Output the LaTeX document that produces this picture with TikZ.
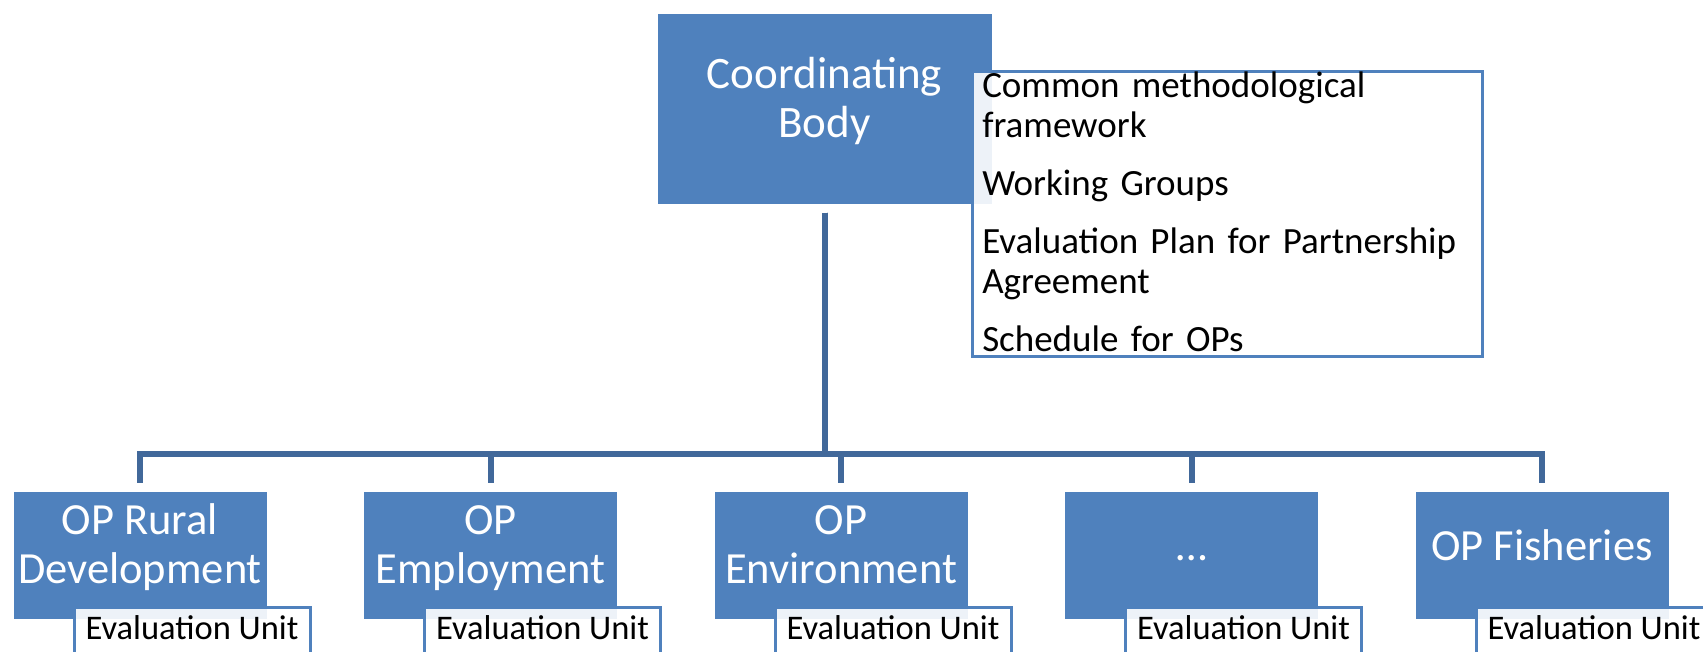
\documentclass[tikz,border=0pt]{standalone}
\usepackage{fontspec}
\setmainfont{Carlito}
\usetikzlibrary{positioning}
\definecolor{boxblue}{HTML}{4F81BD}
\definecolor{lineblue}{HTML}{41689A}
\tikzset{
  body/.style = {rectangle, fill=boxblue, draw=white, line width=1pt, text=white, align=center, inner sep=0pt, text depth=21pt, text height=31pt},
  twolines/.style = {text height=78pt},
  topbox/.style = {body, twolines, minimum width=335pt, minimum height=191pt, font=\fontsize{45}{49}\selectfont},
  opbox/.style = {body, minimum width=254pt, minimum height=128pt, font=\fontsize{44.5}{49}\selectfont},
  notebox/.style = {rectangle, anchor=north west, draw=boxblue, line width=3.5pt, fill=white, fill opacity=0.9, text opacity=1, align=left, text width=490pt, inner xsep=10pt, inner ysep=0pt, minimum height=285pt, text height=26pt, text depth=257.6pt, font=\fontsize{37}{40}\selectfont},
  unitbox/.style = {rectangle, anchor=north west, draw=boxblue, line width=3pt, fill=white, fill opacity=0.9, text opacity=1, minimum width=236pt, minimum height=50pt, inner sep=0pt, text height=24pt, text depth=10pt, font=\fontsize{34.5}{38}\selectfont},
  link/.style = {draw=lineblue, line width=6pt, shorten <=8pt, shorten >=8pt},
}

\begin{document}
\begin{tikzpicture}[x=1pt, y=1pt]
\useasboundingbox (0,0) rectangle (1703,-651);
\clip (0,0) rectangle (1703,-651);

\node [topbox] (cb) at (824.5,-108.5) {Coordinating\\Body};
\node [notebox] (notes) at ([xshift=-22pt,yshift=-57pt]cb.north east)
  {Common methodological\\framework\\[18pt]Working Groups\\[18pt]Evaluation Plan for Partnership\\Agreement\\[18pt]Schedule for OPs};

% operational programmes
\node [opbox, twolines] (rural) at (140,-555) {OP Rural\\Development};
\node [opbox, twolines, right=95.5pt of rural] (employ) {OP\\Employment};
\node [opbox, twolines, right=95.5pt of employ] (env) {OP\\Environment};
\node [opbox, right=95.5pt of env] (dots) {…};
\node [opbox, right=95.5pt of dots] (fish) {OP Fisheries};

\coordinate (bar) at (0,-454);
\foreach \op in {rural,employ,env,dots,fish}
  \draw [link] (cb.south) -- (cb.south |- bar) -| (\op.north);

\foreach \op in {rural,employ,env,dots,fish}
  \node [unitbox] (\op unit) at ([xshift=60pt,yshift=14pt]\op.south west) {Evaluation Unit};
\end{tikzpicture}
\end{document}
